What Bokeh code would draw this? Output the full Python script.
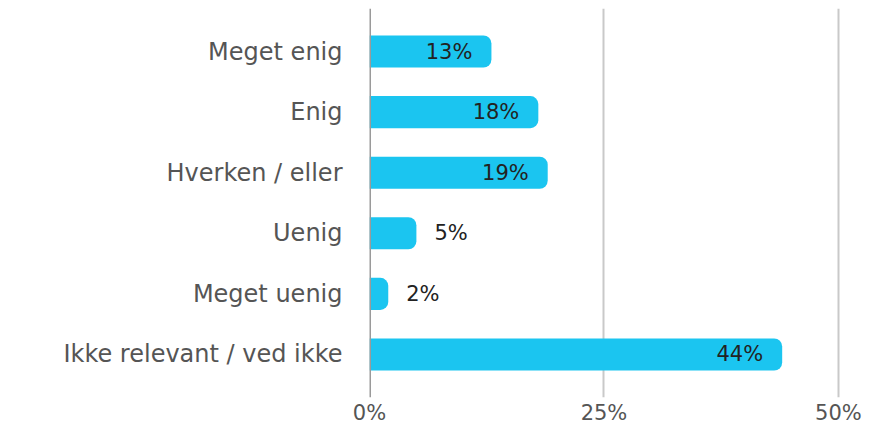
from bokeh.plotting import figure
from bokeh.models import ColumnDataSource, Range1d, FactorRange, Span, FixedTicker
from bokeh.embed import file_html
from bokeh.resources import INLINE
from bokeh.core.properties import value

categories = ["Meget enig", "Enig", "Hverken / eller", "Uenig", "Meget uenig", "Ikke relevant / ved ikke"]
shares = [13, 18, 19, 5, 2, 44]
x_ticks = [0, 25, 50]
x_tick_labels = ["0%", "25%", "50%"]

FONT = "DejaVu Sans"
BAR = "#1bc5f0"

inside = [s >= 10 for s in shares]
src = ColumnDataSource(dict(
    y=categories,
    x=shares,
    label=[f"{s}%" for s in shares],
    align=["right" if i else "left" for i in inside],
    offset=[-19 if i else 18 for i in inside],
))

p = figure(
    width=871, height=429,
    y_range=FactorRange(factors=list(reversed(categories)), range_padding=0.07),
    x_range=Range1d(0, 51.39),
    output_backend="svg", toolbar_location=None,
    min_border_left=369, min_border_right=20, min_border_top=8, min_border_bottom=32,
)
p.outline_line_color = None

p.hbar(y="y", right="x", left=0, height=0.53, source=src, fill_color=BAR,
       line_color=None, border_radius=(0, 8, 8, 0))

p.text(x="x", y="y", text="label", source=src, text_align="align", x_offset="offset",
       text_baseline="middle", text_font=value(FONT), text_font_size="21px", text_color="#222222")

p.add_layout(Span(location=0, dimension="height", line_color="#9a9a9a", line_width=3))

p.ygrid.grid_line_color = None
p.xgrid.grid_line_color = "#c9c9c9"
p.xgrid.grid_line_width = 2
p.xaxis.ticker = FixedTicker(ticks=x_ticks)
p.xaxis.major_label_overrides = {t: l for t, l in zip(x_ticks, x_tick_labels)}

for ax in (p.xaxis, p.yaxis):
    ax.axis_line_color = None
    ax.major_tick_line_color = None
    ax.minor_tick_line_color = None
    ax.major_tick_out = 0
    ax.major_label_text_font = FONT
    ax.major_label_text_color = "#555555"

p.xaxis.major_label_text_font_size = "21px"
p.xaxis.major_label_standoff = 3
p.yaxis.major_label_text_font_size = "24px"
p.yaxis.major_label_standoff = 27

open("out.html", "w").write(file_html(p, INLINE))
